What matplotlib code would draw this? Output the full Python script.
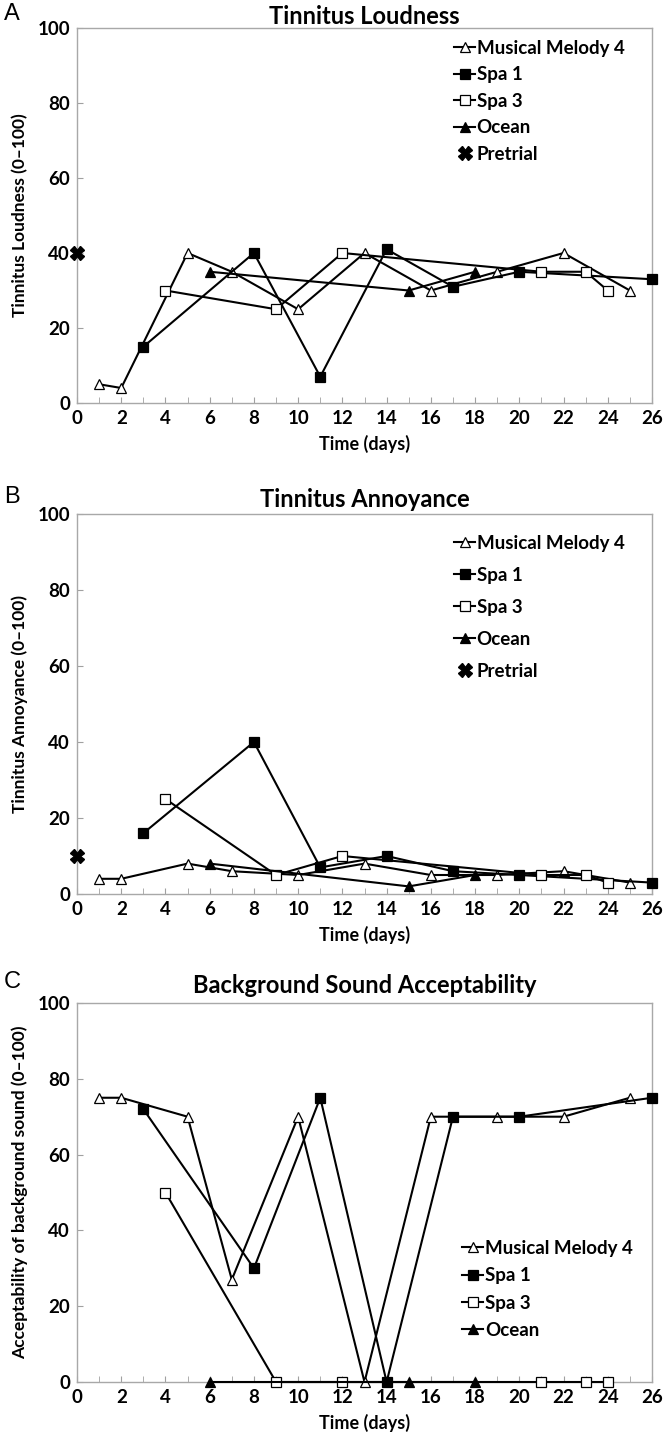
import numpy as np
import matplotlib.pyplot as plt
from matplotlib.ticker import MultipleLocator

plt.rcParams['font.family'] = ['Lato', 'DejaVu Sans']
plt.rcParams['font.weight'] = 'bold'
plt.rcParams['axes.labelweight'] = 'bold'
plt.rcParams['axes.titleweight'] = 'bold'

# Days on which each sound was used
mm4_days = [1, 2, 5, 7, 10, 13, 16, 19, 22, 25]
spa1_days = [3, 8, 11, 14, 17, 20, 26]
spa3_days = [4, 9, 12, 21, 23, 24]
ocean_days = [6, 15, 18]
pretrial_day = [0]

# A: Tinnitus loudness
loud_mm4 = [5, 4, 40, 35, 25, 40, 30, 35, 40, 30]
loud_spa1 = [15, 40, 7, 41, 31, 35, 33]
loud_spa3 = [30, 25, 40, 35, 35, 30]
loud_ocean = [35, 30, 35]
loud_pre = [40]

# B: Tinnitus annoyance
ann_mm4 = [4, 4, 8, 6, 5, 8, 5, 5, 6, 3]
ann_spa1 = [16, 40, 7, 10, 6, 5, 3]
ann_spa3 = [25, 5, 10, 5, 5, 3]
ann_ocean = [8, 2, 5]
ann_pre = [10]

# C: Acceptability of background sound
acc_mm4 = [75, 75, 70, 27, 70, 0, 70, 70, 70, 75]
acc_spa1 = [72, 30, 75, 0, 70, 70, 75]
acc_spa3 = [50, 0, 0, 0, 0, 0]
acc_ocean = [0, 0, 0]

series_names = ["Musical Melody 4", "Spa 1", "Spa 3", "Ocean"]


def draw_panel(ax, values, pretrial, title, ylabel, legend_xy, spacing, title_pad):
    days = [mm4_days, spa1_days, spa3_days, ocean_days]
    styles = [("^", "white"), ("s", "black"), ("s", "white"), ("^", "black")]
    for d, v, name, (m, fc) in zip(days, values, series_names, styles):
        ax.plot(d, v, color="black", lw=1.5, marker=m, markerfacecolor=fc,
                markeredgecolor="black", markeredgewidth=0.9, ms=7, label=name,
                clip_on=False, zorder=3)
    if pretrial is not None:
        ax.plot(pretrial_day, pretrial, linestyle="none", marker="X", color="black",
                ms=10, label="Pretrial", clip_on=False, zorder=4)

    ax.set_xlim(0, 26)
    ax.set_ylim(0, 100)
    ax.xaxis.set_major_locator(MultipleLocator(2))
    ax.xaxis.set_minor_locator(MultipleLocator(1))
    ax.yaxis.set_major_locator(MultipleLocator(20))
    ax.tick_params(axis="both", which="both", direction="in", color="#a0a0a0",
                   labelsize=13.5, pad=5, length=4)
    for s in ax.spines.values():
        s.set_color("#a8a8a8")
        s.set_linewidth(1.0)

    ax.set_title(title, fontsize=17, pad=title_pad)
    ax.set_xlabel("Time (days)", fontsize=13)
    ax.set_ylabel(ylabel, fontsize=12.5)
    ax.yaxis.set_label_coords(-0.085, 0.5)
    ax.xaxis.set_label_coords(0.5, -0.085)

    ax.legend(loc="upper left", bbox_to_anchor=legend_xy, frameon=False,
              fontsize=13.5, handlelength=1.1, handletextpad=0.1,
              labelspacing=spacing, borderpad=0, borderaxespad=0)


fig = plt.figure(figsize=(6.64, 14.32), dpi=100)
ax_a = fig.add_axes([77 / 664, 1 - 403 / 1432, 575 / 664, 375 / 1432])
ax_b = fig.add_axes([77 / 664, 1 - 894 / 1432, 575 / 664, 380 / 1432])
ax_c = fig.add_axes([77 / 664, 1 - 1382 / 1432, 575 / 664, 379 / 1432])

draw_panel(ax_a, [loud_mm4, loud_spa1, loud_spa3, loud_ocean], loud_pre,
           "Tinnitus Loudness", "Tinnitus Loudness (0\u2013100)", (0.656, 0.968), 0.5, 3)
draw_panel(ax_b, [ann_mm4, ann_spa1, ann_spa3, ann_ocean], ann_pre,
           "Tinnitus Annoyance", "Tinnitus Annoyance (0\u2013100)", (0.656, 0.945), 0.8, 5)
draw_panel(ax_c, [acc_mm4, acc_spa1, acc_spa3, acc_ocean], None,
           "Background Sound Acceptability", "Acceptability of background sound (0\u2013100)",
           (0.67, 0.375), 0.55, 7)

for letter, y in [("A", 14), ("B", 497), ("C", 982)]:
    fig.text(4 / 664, 1 - y / 1432, letter, fontsize=17, fontweight="normal",
             family=["Liberation Sans", "DejaVu Sans"], va="center", ha="left")

fig.savefig("out.png", dpi=100)
